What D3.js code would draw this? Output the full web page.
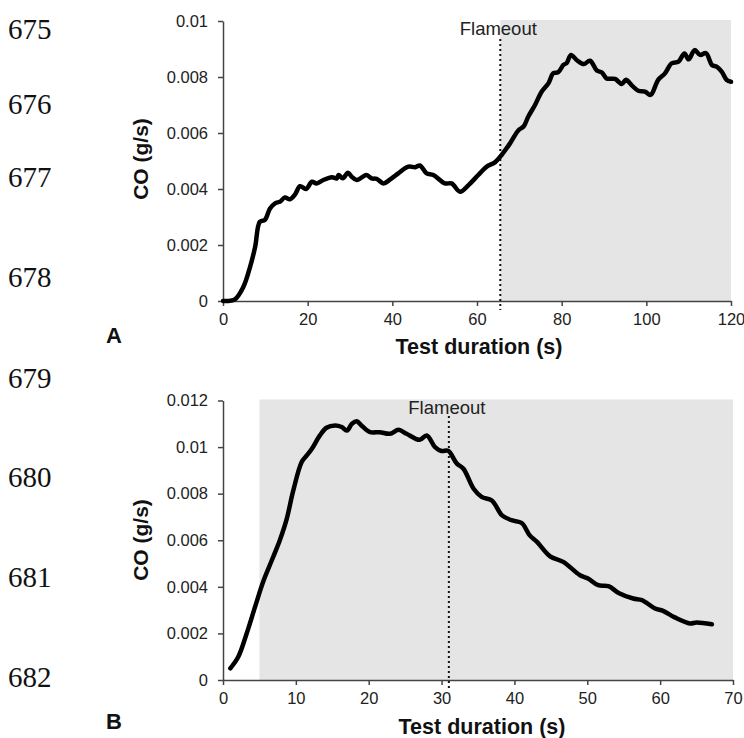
<!DOCTYPE html>
<html>
<head>
<meta charset="utf-8">
<script src="https://cdn.jsdelivr.net/npm/d3@7"></script>
<style>
  body { margin: 0; background: #fff; }
  text { font-family: "Liberation Sans", Arial, sans-serif; }
  .lineno { font-family: "Liberation Serif", "Times New Roman", serif; font-size: 29px; fill: #111; }
  .tick text { font-size: 16.5px; fill: #222; }
  .tick line, .domain { stroke: #444; stroke-width: 1.5; }
</style>
</head>
<body>
<svg id="fig" width="744" height="738"></svg>
<script>
// panel A: CO over time, flameout at ~65.5 s
const timeA = [0, 2.8, 4.8, 6.4, 7.6, 8.7, 9.9, 11.1, 12.3, 13.5, 14.6, 15.8, 17, 18.2, 19.6, 21, 22.1, 23.7, 25.7, 26.9, 27.3, 28.3, 29.5, 30.4, 31.6,
  33.9, 35.1, 36.3, 37.9, 39.5, 41.4, 43.8, 45.4, 46.5, 48.1, 49.7, 52.4, 54, 56, 58, 60.3, 62.3, 64.3, 65.8, 67.8, 69.8, 71, 72.1, 73.7, 75.3,
  76.9, 78, 79.2, 80.4, 81.2, 82.2, 83.6, 85.2, 86.7, 88.3, 89.5, 90.6, 92.6, 94.2, 95.2, 96.5, 98.1, 99.7, 101, 102.8, 104.4, 106, 107.6, 109,
  110, 111.4, 112.7, 114.1, 115.5, 116.6, 117.8, 119, 120];
const coA = [0, 0.00006, 0.0005, 0.00122, 0.00194, 0.00283, 0.0029, 0.0033, 0.00349, 0.00355, 0.0037, 0.00363, 0.0038, 0.0041, 0.004, 0.00426,
  0.0042, 0.00432, 0.00442, 0.00438, 0.0045, 0.00438, 0.00458, 0.00444, 0.00432, 0.0045, 0.00438, 0.00436, 0.0042, 0.00434, 0.00456, 0.0048,
  0.00478, 0.00484, 0.00456, 0.0045, 0.0042, 0.0042, 0.0039, 0.00414, 0.0045, 0.0048, 0.00496, 0.00521, 0.00563, 0.0061, 0.00623, 0.00658,
  0.007, 0.00748, 0.00778, 0.00813, 0.00817, 0.00843, 0.0085, 0.00879, 0.0086, 0.00846, 0.00858, 0.00823, 0.00816, 0.00795, 0.00793, 0.00775,
  0.0079, 0.00771, 0.00751, 0.00748, 0.00736, 0.0079, 0.00813, 0.00849, 0.00855, 0.00884, 0.00863, 0.00896, 0.00879, 0.00885, 0.00843,
  0.00837, 0.00819, 0.00789, 0.00783];
const xTicksA = [0, 20, 40, 60, 80, 100, 120];
const yTicksA = [0, 0.002, 0.004, 0.006, 0.008, 0.01];
const flameoutA = 65.5;
const shadeA = [65.5, 120];

// panel B
const timeB = [1, 2.1, 3.25, 4.4, 5.5, 6.7, 7.8, 8.7, 9.65, 10.8, 11.5, 12.2, 13.3, 14.2, 15.4, 16.3, 17, 17.7, 18.35, 19, 20.2, 21.5, 22.9,
  24.1, 25.2, 27, 27.96, 29.1, 30, 30.9, 32.1, 33, 34.4, 35.5, 36.9, 38.3, 39.6, 41, 42.1, 43.1, 44.9, 46.7, 49, 50.1, 51.5, 52.9, 54.3,
  56.3, 57.5, 59.3, 60.4, 62, 64.1, 65, 67.1];
const coB = [0.0005, 0.001, 0.002, 0.00314, 0.00421, 0.00514, 0.006, 0.00686, 0.00814, 0.00936, 0.00964, 0.00993, 0.0105, 0.01083, 0.01093,
  0.01086, 0.01071, 0.011, 0.01111, 0.01093, 0.01064, 0.01064, 0.01057, 0.01074, 0.01057, 0.01031, 0.0105, 0.01, 0.00983, 0.00984, 0.00929,
  0.00907, 0.00821, 0.00786, 0.00771, 0.00707, 0.00686, 0.00674, 0.00621, 0.00593, 0.00531, 0.00507, 0.0045, 0.00436, 0.00407, 0.00403,
  0.00374, 0.0035, 0.00343, 0.00307, 0.00297, 0.00269, 0.00243, 0.00247, 0.00239];
const xTicksB = [0, 10, 20, 30, 40, 50, 60, 70];
const yTicksB = [0, 0.002, 0.004, 0.006, 0.008, 0.01, 0.012];
const flameoutB = 31;
const shadeB = [5, 70];

const lineNums = ["675", "676", "677", "678", "679", "680", "681", "682"];
const lineNumY = [38.5, 113.5, 187, 287, 387.5, 487, 587, 687];

const svg = d3.select("#fig");

svg.selectAll(".lineno")
  .data(lineNums)
  .join("text")
  .attr("class", "lineno")
  .attr("x", 8)
  .attr("y", (d, i) => lineNumY[i])
  .text(d => d);

const fmt = d => d === 0 ? "0" : String(+d.toFixed(3));

function drawPanel(cfg) {
  const x = d3.scaleLinear().domain(cfg.xDomain).range(cfg.xRange);
  const y = d3.scaleLinear().domain(cfg.yDomain).range(cfg.yRange);
  const g = svg.append("g");

  g.append("rect")
    .attr("x", x(cfg.shade[0]))
    .attr("y", y(cfg.yDomain[1]) - 1)
    .attr("width", x(cfg.shade[1]) - x(cfg.shade[0]))
    .attr("height", y(0) - y(cfg.yDomain[1]) + 1)
    .attr("fill", "#e5e5e5");

  g.append("g")
    .attr("transform", `translate(0,${y(0)})`)
    .call(d3.axisBottom(x).tickValues(cfg.xTicks).tickSize(5).tickSizeOuter(0).tickPadding(7))
    .call(a => a.selectAll("text").attr("fill", "#222"));

  g.append("g")
    .attr("transform", `translate(${x(0)},0)`)
    .call(d3.axisLeft(y).tickValues(cfg.yTicks).tickFormat(fmt).tickSize(5).tickSizeOuter(0).tickPadding(10))
    .call(a => a.selectAll("text").attr("fill", "#222"));

  g.append("line")
    .attr("x1", x(cfg.flameout)).attr("x2", x(cfg.flameout))
    .attr("y1", cfg.dotTop).attr("y2", y(0) + 9)
    .attr("stroke", "#111")
    .attr("stroke-width", 2)
    .attr("stroke-dasharray", "2,3");

  g.append("text")
    .attr("x", x(cfg.flameout) - 2)
    .attr("y", cfg.flameTextY)
    .attr("text-anchor", "middle")
    .attr("font-size", 18.5)
    .attr("fill", "#222")
    .text("Flameout");

  const pts = cfg.t.map((t, i) => [t, cfg.v[i]]);
  g.append("path")
    .datum(pts)
    .attr("fill", "none")
    .attr("stroke", "#000")
    .attr("stroke-width", 4.5)
    .attr("stroke-linejoin", "round")
    .attr("stroke-linecap", "round")
    .attr("d", d3.line().x(d => x(d[0])).y(d => y(d[1])).curve(d3.curveCatmullRom.alpha(0.5)));

  g.append("text")
    .attr("x", cfg.xTitleX)
    .attr("y", cfg.xTitleY)
    .attr("text-anchor", "middle")
    .attr("font-size", 21.5)
    .attr("font-weight", "bold")
    .attr("fill", "#111")
    .text("Test duration (s)");

  g.append("text")
    .attr("transform", `translate(148,${cfg.yTitleY}) rotate(-90)`)
    .attr("text-anchor", "middle")
    .attr("font-size", 21)
    .attr("font-weight", "bold")
    .attr("fill", "#111")
    .text("CO (g/s)");

  g.append("text")
    .attr("x", 106)
    .attr("y", cfg.letterY)
    .attr("font-size", 22)
    .attr("font-weight", "bold")
    .attr("fill", "#111")
    .text(cfg.letter);
}

drawPanel({
  t: timeA, v: coA, xDomain: [0, 120], xRange: [223, 731], yDomain: [0, 0.01], yRange: [301, 21],
  xTicks: xTicksA, yTicks: yTicksA, flameout: flameoutA, shade: shadeA,
  dotTop: 39, flameTextY: 35, xTitleX: 479, xTitleY: 354, yTitleY: 159, letter: "A", letterY: 343
});

drawPanel({
  t: timeB, v: coB, xDomain: [0, 70], xRange: [223, 733], yDomain: [0, 0.012], yRange: [680, 400.5],
  xTicks: xTicksB, yTicks: yTicksB, flameout: flameoutB, shade: shadeB,
  dotTop: 416, flameTextY: 414, xTitleX: 482, xTitleY: 734, yTitleY: 540, letter: "B", letterY: 729
});
</script>
</body>
</html>
